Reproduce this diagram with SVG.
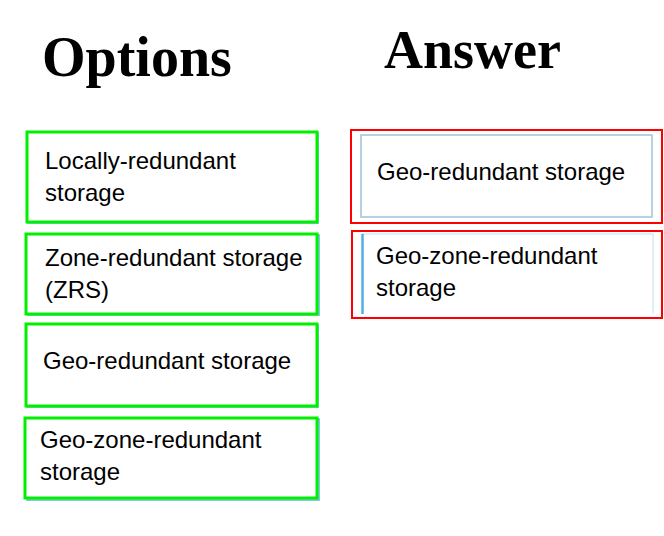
<svg xmlns="http://www.w3.org/2000/svg" width="664" height="536" viewBox="0 0 664 536">
<style>
.hdr{font-family:"Liberation Serif","Times New Roman",serif;font-weight:bold;fill:#000}
.t{font-family:"Liberation Sans",Arial,sans-serif;font-size:24px;fill:#000}
.g{fill:#fff;stroke:#00f000;stroke-width:3}
.b{fill:none;stroke:#5ab4e6;stroke-width:1.5}
.r{fill:none;stroke:#ff0000;stroke-width:2}
.bl{fill:none;stroke:#9cc4dc;stroke-width:1.5}
</style>
<rect width="664" height="536" fill="#fff"/>
<text class="hdr" x="42" y="76" font-size="56">Options</text>
<text class="hdr" x="384" y="68" font-size="54">Answer</text>
<g id="opt1">
<rect class="b" x="28" y="133" width="290" height="90"/>
<rect class="g" x="27" y="132" width="290" height="90"/>
<text class="t" x="45" y="169">Locally-redundant</text>
<text class="t" x="45" y="201">storage</text>
</g>
<g id="opt2">
<rect class="b" x="28" y="235" width="291" height="80"/>
<rect class="g" x="26" y="234" width="291" height="80"/>
<text class="t" x="45" y="266">Zone-redundant storage</text>
<text class="t" x="45" y="298">(ZRS)</text>
</g>
<g id="opt3">
<rect class="b" x="27" y="325" width="291" height="82"/>
<rect class="g" x="26" y="324" width="291" height="82"/>
<text class="t" x="43" y="369">Geo-redundant storage</text>
</g>
<g id="opt4">
<rect class="b" x="27" y="419" width="292" height="81"/>
<rect class="g" x="25" y="418" width="292" height="80"/>
<text class="t" x="40" y="448">Geo-zone-redundant</text>
<text class="t" x="40" y="480">storage</text>
</g>
<g id="ans1">
<rect class="r" x="351" y="130" width="311" height="93"/>
<rect class="bl" x="361" y="135" width="291" height="82"/>
<text class="t" x="377" y="180">Geo-redundant storage</text>
</g>
<g id="ans2">
<rect class="r" x="352" y="231" width="310" height="87"/>
<path d="M362 234 H653 V314" fill="none" stroke="#d4ecf7" stroke-width="1.5"/>
<line x1="362.5" y1="234" x2="362.5" y2="314" stroke="#4fb0e6" stroke-width="2.5"/>
<text class="t" x="376" y="264">Geo-zone-redundant</text>
<text class="t" x="376" y="296">storage</text>
</g>
<g id="connectors"/>
</svg>
